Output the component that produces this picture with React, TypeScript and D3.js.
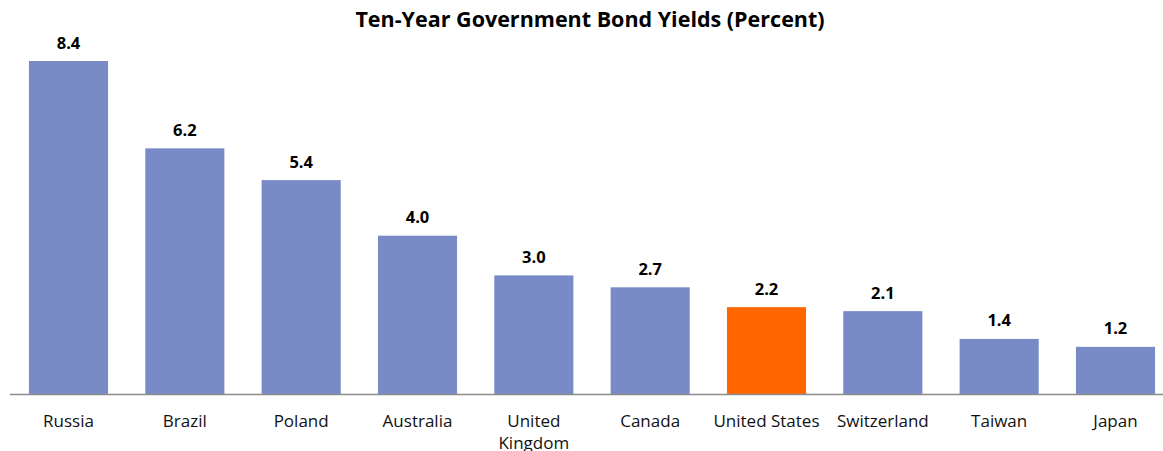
import React from "react";
import * as d3 from "d3";

const categories = ["Russia", "Brazil", "Poland", "Australia", "United Kingdom", "Canada", "United States", "Switzerland", "Taiwan", "Japan"];
const yields = [8.4, 6.2, 5.4, 4.0, 3.0, 2.7, 2.2, 2.1, 1.4, 1.2];
const highlight = "United States";
const title = "Ten-Year Government Bond Yields (Percent)";

const W = 1163;
const H = 451;
const baseY = 394.5;
const FONT = "'Open Sans', 'DejaVu Sans', sans-serif";

export default function App() {
  const x = d3
    .scaleBand<string>()
    .domain(categories)
    .range([10.33, 1173.67])
    .paddingInner(0.32)
    .paddingOuter(0.16);
  const y = d3.scaleLinear().domain([0, 8.4]).range([baseY, 61]);

  const wrapLabel = (c: string) => (c === "United Kingdom" ? ["United", "Kingdom"] : [c]);

  return (
    <svg
      width={W}
      height={H}
      style={{ position: "absolute", left: 0, top: 0, display: "block" }}
      fontFamily={FONT}
    >
      <rect x={0} y={0} width={W} height={H} fill="#ffffff" />
      <text x={590} y={27} textAnchor="middle" fontSize={21.5} fontWeight="bold" fill="#000">
        {title}
      </text>
      {categories.map((c, i) => {
        const v = yields[i];
        const bx = x(c)!;
        const bw = x.bandwidth();
        return (
          <g key={c}>
            <rect
              x={bx}
              y={y(v)}
              width={bw}
              height={baseY - y(v)}
              fill={c === highlight ? "#FF6600" : "#798BC6"}
            />
            <text
              x={bx + bw / 2}
              y={y(v) - 12.5}
              textAnchor="middle"
              fontSize={16.5}
              fontWeight="bold"
              fill="#000"
            >
              {d3.format(".1f")(v)}
            </text>
            {wrapLabel(c).map((line, j) => (
              <text
                key={j}
                x={bx + bw / 2}
                y={427 + j * 22}
                textAnchor="middle"
                fontSize={17}
                fill="#111"
              >
                {line}
              </text>
            ))}
          </g>
        );
      })}
      <line x1={10} x2={W} y1={baseY} y2={baseY} stroke="#8c8c8c" strokeWidth={1.5} />
    </svg>
  );
}
